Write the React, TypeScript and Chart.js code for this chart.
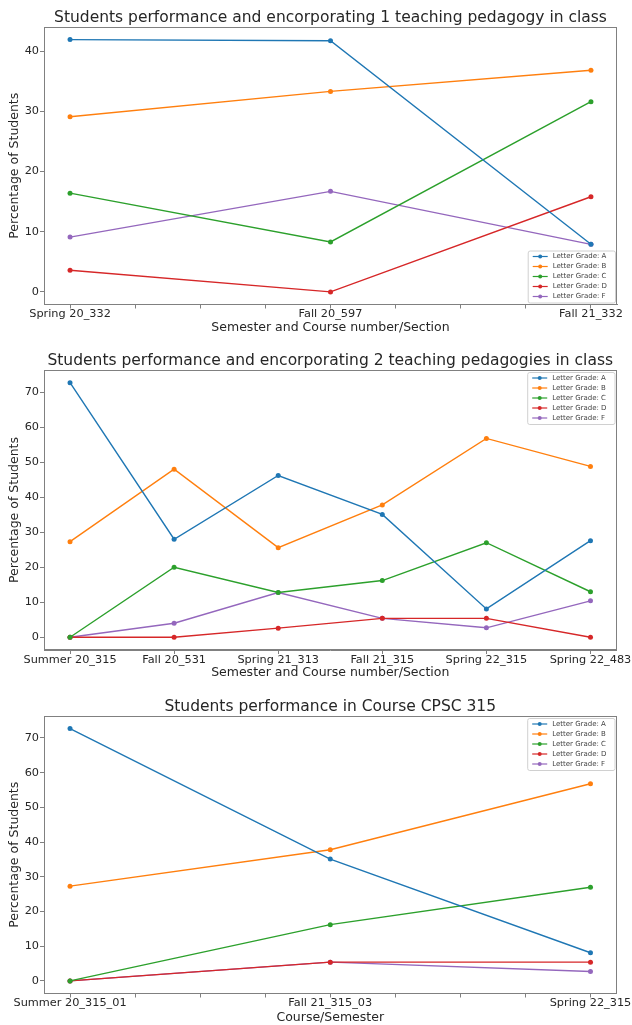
import React, { useEffect, useRef } from 'react';
import { Chart, registerables } from 'chart.js';

Chart.register(...registerables);

// ---------- data ----------
const GRADE_LABELS = ['Letter Grade: A', 'Letter Grade: B', 'Letter Grade: C', 'Letter Grade: D', 'Letter Grade: F'];
const GRADE_COLORS = ['#1f77b4', '#ff7f0e', '#2ca02c', '#d62728', '#9467bd'];

// Chart 1: one teaching pedagogy
const c1Categories = ['Spring 20_332', 'Fall 20_597', 'Fall 21_332'];
const c1GradeA = [41.9, 41.7, 7.9];
const c1GradeB = [29.1, 33.3, 36.8];
const c1GradeC = [16.4, 8.3, 31.6];
const c1GradeD = [3.6, 0, 15.8];
const c1GradeF = [9.1, 16.7, 7.9];

// Chart 2: two teaching pedagogies
const c2Categories = ['Summer 20_315', 'Fall 20_531', 'Spring 21_313', 'Fall 21_315', 'Spring 22_315', 'Spring 22_483'];
const c2GradeA = [72.7, 28.0, 46.2, 35.1, 8.1, 27.6];
const c2GradeB = [27.3, 48.0, 25.6, 37.8, 56.8, 48.8];
const c2GradeC = [0, 20.0, 12.8, 16.2, 27.0, 13.0];
const c2GradeD = [0, 0, 2.6, 5.4, 5.4, 0];
const c2GradeF = [0, 4.0, 12.8, 5.4, 2.7, 10.4];

// Chart 3: course CPSC 315
const c3Categories = ['Summer 20_315_01', 'Fall 21_315_03', 'Spring 22_315'];
const c3GradeA = [72.7, 35.1, 8.1];
const c3GradeB = [27.3, 37.8, 56.8];
const c3GradeC = [0, 16.2, 27.0];
const c3GradeD = [0, 5.4, 5.4];
const c3GradeF = [0, 5.4, 2.7];

const Y_TICK_STEP = 10;
const Y_TITLE = 'Percentage of Students';

// ---------- styles ----------
const FONT = '"DejaVu Sans", "Liberation Sans", sans-serif';
const TEXT = '#262626';
const SPINE = '#808080';

// ticks at whole multiples of a step inside [min, max]
function stepTicks(scale: any, step: number) {
  const out: any[] = [];
  const start = Math.ceil(scale.min / step - 1e-9);
  const end = Math.floor(scale.max / step + 1e-9);
  for (let k = start; k <= end; k++) out.push({ value: Math.round(k * step * 1e6) / 1e6 });
  scale.ticks = out;
}

const spinePlugin = {
  id: 'mplSpines',
  afterDatasetsDraw(chart: any) {
    const { ctx, chartArea } = chart;
    ctx.save();
    ctx.strokeStyle = SPINE;
    ctx.lineWidth = 1;
    ctx.strokeRect(
      Math.round(chartArea.left) + 0.5,
      Math.round(chartArea.top) + 0.5,
      Math.round(chartArea.right - chartArea.left) - 1,
      Math.round(chartArea.bottom - chartArea.top) - 1
    );
    ctx.restore();
  },
};

const legendPlugin = {
  id: 'mplLegend',
  afterDraw(chart: any, _args: any, opts: any) {
    const { ctx, chartArea } = chart;
    const fs = opts.fontSize;
    ctx.save();
    ctx.font = `${fs}px ${FONT}`;
    const items = chart.data.datasets.map((ds: any) => ({ label: ds.label, color: ds.borderColor }));
    const textW = Math.max(...items.map((it: any) => ctx.measureText(it.label).width));
    const padL = 5, padR = 8, handle = 15, gap = 5, rowH = 10, padY = 1;
    const w = padL + handle + gap + textW + padR;
    const h = items.length * rowH + 2 * padY;
    const x = chartArea.right - opts.inset - w;
    const y = opts.corner === 'upper right' ? chartArea.top + opts.inset : chartArea.bottom - opts.inset - h;
    ctx.beginPath();
    (ctx as any).roundRect(x + 0.5, y + 0.5, w, h, 2);
    ctx.fillStyle = 'rgba(255,255,255,0.8)';
    ctx.fill();
    ctx.strokeStyle = '#d0d0d0';
    ctx.lineWidth = 1;
    ctx.stroke();
    items.forEach((it: any, i: number) => {
      const cy = y + padY + rowH * (i + 0.5);
      ctx.strokeStyle = it.color;
      ctx.lineWidth = 1.2;
      ctx.beginPath();
      ctx.moveTo(x + padL, cy);
      ctx.lineTo(x + padL + handle, cy);
      ctx.stroke();
      ctx.fillStyle = it.color;
      ctx.beginPath();
      ctx.arc(x + padL + handle / 2, cy, 2, 0, Math.PI * 2);
      ctx.fill();
      ctx.fillStyle = '#444';
      ctx.textBaseline = 'middle';
      ctx.textAlign = 'left';
      ctx.fillText(it.label, x + padL + handle + gap, cy);
    });
    ctx.restore();
  },
};

type ChartProps = {
  top: number;
  height: number;
  title: string;
  xTitle: string;
  categories: string[];
  series: number[][];
  xTickStep: number;
  titlePadTop: number;
  titlePadBottom: number;
  xAxisHeight: number;
  xTitlePadBottom: number;
  legendCorner: string;
};

function GradeChart(props: ChartProps) {
  const ref = useRef<HTMLCanvasElement>(null);
  useEffect(() => {
    const n = props.categories.length;
    const all = props.series.flat();
    const yMin = Math.min(...all);
    const yMax = Math.max(...all);
    const yPad = 0.05 * (yMax - yMin);
    const xPad = 0.05 * (n - 1);
    const gridOpts = { drawOnChartArea: false, drawTicks: true, tickLength: 4, color: SPINE, lineWidth: 1 };
    const borderOpts = { display: true, color: SPINE, width: 1 };
    const tickFont = { family: FONT, size: 11.3, lineHeight: 1.0 };
    const axisTitleFont = { family: FONT, size: 12.5, lineHeight: 1.2 };
    const chart = new Chart(ref.current as HTMLCanvasElement, {
      type: 'line',
      data: {
        datasets: props.series.map((vals, k) => ({
          label: GRADE_LABELS[k],
          data: vals.map((v, i) => ({ x: i, y: v })),
          borderColor: GRADE_COLORS[k],
          backgroundColor: GRADE_COLORS[k],
          borderWidth: 1.4,
          pointRadius: 2.5,
          pointBorderWidth: 0,
          pointHoverRadius: 2.5,
          tension: 0,
        })),
      },
      options: {
        responsive: false,
        animation: false,
        events: [],
        layout: { padding: { left: 0, right: 15, top: 0, bottom: 0 } },
        plugins: {
          legend: { display: false },
          tooltip: { enabled: false },
          title: {
            display: true,
            text: props.title,
            fullSize: false,
            color: TEXT,
            font: { family: FONT, size: 15.5, weight: 'normal', lineHeight: 1.0 },
            padding: { top: props.titlePadTop, bottom: props.titlePadBottom },
          },
          mplLegend: { corner: props.legendCorner, inset: 2, fontSize: 7 },
        } as any,
        scales: {
          x: {
            type: 'linear',
            min: -xPad,
            max: n - 1 + xPad,
            afterFit: (s: any) => { s.height = props.xAxisHeight; },
            afterBuildTicks: (s: any) => stepTicks(s, props.xTickStep),
            ticks: {
              autoSkip: false,
              maxRotation: 0,
              minRotation: 0,
              padding: 0,
              color: TEXT,
              font: tickFont,
              callback: (v: any) => (Number.isInteger(v) ? props.categories[v] : ''),
            },
            grid: gridOpts,
            border: borderOpts,
            title: {
              display: true,
              text: props.xTitle,
              color: TEXT,
              font: axisTitleFont,
              padding: { top: 0, bottom: props.xTitlePadBottom },
            },
          },
          y: {
            type: 'linear',
            min: yMin - yPad,
            max: yMax + yPad,
            afterFit: (s: any) => { s.width = 44; },
            afterBuildTicks: (s: any) => stepTicks(s, Y_TICK_STEP),
            ticks: {
              padding: 1,
              color: TEXT,
              font: tickFont,
              callback: (v: any) => String(v),
            },
            grid: gridOpts,
            border: borderOpts,
            title: {
              display: true,
              text: Y_TITLE,
              color: TEXT,
              font: axisTitleFont,
              padding: { top: 7.5, bottom: 0 },
            },
          },
        } as any,
      },
      plugins: [spinePlugin, legendPlugin],
    } as any);
    return () => chart.destroy();
  }, []);
  return (
    <canvas
      ref={ref}
      width={632}
      height={props.height}
      style={{ position: 'absolute', left: 0, top: props.top, width: 632, height: props.height, display: 'block' }}
    />
  );
}

export default function App() {
  return (
    <div style={{ position: 'absolute', left: 0, top: 0, width: 632, height: 1025, background: '#ffffff', overflow: 'hidden' }}>
      <GradeChart
        top={0}
        height={336}
        title="Students performance and encorporating 1 teaching pedagogy in class"
        xTitle="Semester and Course number/Section"
        categories={c1Categories}
        series={[c1GradeA, c1GradeB, c1GradeC, c1GradeD, c1GradeF]}
        xTickStep={0.25}
        titlePadTop={10.25}
        titlePadBottom={1.25}
        xAxisHeight={31.5}
        xTitlePadBottom={0.5}
        legendCorner="lower right"
      />
      <GradeChart
        top={336}
        height={344}
        title="Students performance and encorporating 2 teaching pedagogies in class"
        xTitle="Semester and Course number/Section"
        categories={c2Categories}
        series={[c2GradeA, c2GradeB, c2GradeC, c2GradeD, c2GradeF]}
        xTickStep={1}
        titlePadTop={17.25}
        titlePadBottom={1.25}
        xAxisHeight={30}
        xTitlePadBottom={0}
        legendCorner="upper right"
      />
      <GradeChart
        top={680}
        height={345}
        title="Students performance in Course CPSC 315"
        xTitle="Course/Semester"
        categories={c3Categories}
        series={[c3GradeA, c3GradeB, c3GradeC, c3GradeD, c3GradeF]}
        xTickStep={0.25}
        titlePadTop={19.25}
        titlePadBottom={1.25}
        xAxisHeight={31.5}
        xTitlePadBottom={0}
        legendCorner="upper right"
      />
    </div>
  );
}
